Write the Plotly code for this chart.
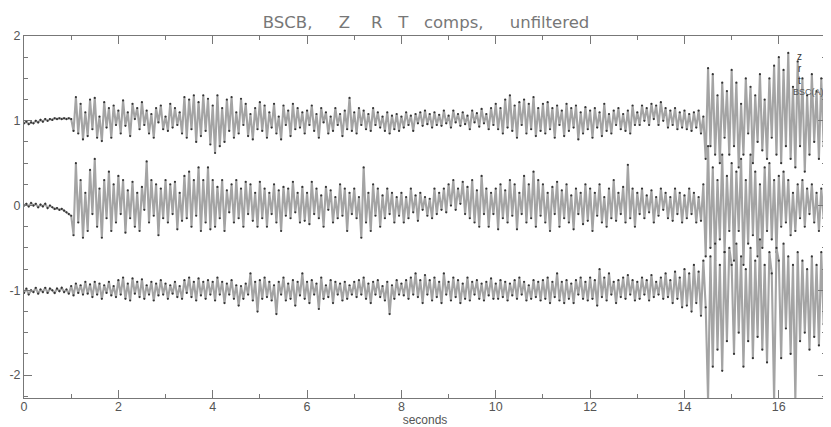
import plotly.graph_objects as go

DT = 0.05
OFFSET_Z, OFFSET_R, OFFSET_T = 1.0, 0.0, -1.0

z_dev = [
 -0.03,-0.01,-0.04,-0.02,-0.03,0.0,-0.02,0.01,-0.01,0.02,0.0,0.02,0.01,0.03,0.02,0.03,0.02,0.03,0.02,0.03,
 0.02,-0.12,0.28,-0.15,0.2,-0.22,0.1,-0.18,0.25,-0.1,0.27,-0.2,0.05,-0.24,0.22,-0.08,0.15,-0.2,0.18,-0.05,
 0.12,-0.15,0.24,-0.06,0.1,-0.18,0.2,0.02,0.15,-0.1,0.22,-0.05,0.12,-0.15,0.08,-0.2,0.15,-0.02,0.18,-0.1,
 0.05,-0.12,0.2,-0.08,0.15,-0.05,0.1,-0.15,0.28,-0.2,0.25,-0.1,0.3,-0.25,0.22,-0.18,0.3,-0.12,0.26,-0.28,
 0.18,-0.38,0.3,-0.3,0.15,-0.25,0.25,-0.12,0.28,-0.2,0.1,-0.15,0.26,-0.05,0.2,-0.18,0.08,-0.22,0.15,-0.1,
 0.22,-0.12,0.18,-0.2,0.1,-0.08,0.2,-0.15,0.05,-0.22,0.18,-0.05,0.12,-0.18,0.2,-0.1,0.15,-0.08,0.1,-0.15,
 0.12,-0.05,0.18,-0.12,0.08,-0.2,0.15,-0.02,0.1,-0.15,0.05,-0.12,0.15,-0.05,0.08,-0.18,0.12,-0.1,0.27,-0.12,
 0.1,-0.15,0.15,-0.05,0.12,-0.1,0.08,-0.12,0.15,-0.05,0.1,-0.08,0.05,-0.12,0.1,-0.15,0.06,-0.1,0.08,-0.12,
 0.05,-0.08,0.1,-0.05,0.06,-0.12,0.08,-0.03,0.1,-0.06,0.12,-0.04,0.08,-0.08,0.1,-0.05,0.07,-0.06,0.12,-0.03,
 0.06,-0.08,0.12,-0.02,0.08,-0.06,0.1,-0.04,0.06,-0.1,0.12,-0.02,0.09,-0.07,0.14,-0.03,0.08,-0.1,0.15,-0.05,
 0.2,-0.1,0.15,-0.15,0.25,-0.08,0.3,-0.12,0.18,-0.2,0.22,-0.05,0.25,-0.15,0.2,-0.1,0.28,-0.18,0.15,-0.12,
 0.2,-0.15,0.22,-0.1,0.15,-0.2,0.18,-0.05,0.12,-0.18,0.2,-0.12,0.15,-0.08,0.18,-0.22,0.1,-0.15,0.16,-0.1,
 0.12,-0.2,0.15,-0.08,0.1,-0.18,0.2,-0.12,0.08,-0.15,0.12,-0.05,0.15,-0.1,0.08,-0.12,0.12,-0.15,0.18,-0.05,
 0.1,-0.05,0.18,0.0,0.15,-0.05,0.2,0.02,0.18,-0.05,0.22,0.0,0.15,-0.08,0.12,-0.05,0.15,-0.1,0.1,-0.08,
 0.12,-0.1,0.08,-0.12,0.1,-0.08,0.12,-0.15,0.05,-0.45,0.62,-0.3,0.55,-0.4,0.3,-0.5,0.45,-0.2,0.35,-0.4,
 0.6,-0.3,0.45,-0.55,0.2,-0.4,0.5,-0.15,0.4,-0.5,0.3,-0.25,0.55,-0.35,0.25,-0.45,0.5,-0.2,0.65,-0.4,
 0.75,-0.5,0.6,-0.3,0.8,-0.45,0.4,-0.55,0.7,-0.3,0.5,-0.6,0.3,-0.4,0.55,-0.25,0.35,-0.45,0.5,-0.3,
 0.2]

r_dev = [
 0.0,0.02,-0.01,0.03,0.0,0.02,-0.02,0.01,-0.01,0.02,-0.03,0.0,-0.02,-0.04,-0.03,-0.05,-0.04,-0.06,-0.08,-0.1,
 -0.12,-0.35,0.5,-0.2,0.3,-0.38,0.15,-0.3,0.42,-0.1,0.55,-0.25,0.2,-0.38,0.3,-0.15,0.4,-0.3,0.25,-0.2,
 0.35,-0.1,0.3,-0.32,0.18,-0.15,0.28,-0.25,0.15,-0.3,0.22,-0.05,0.52,-0.2,0.3,-0.12,0.25,-0.35,0.2,-0.15,
 0.3,-0.2,0.25,-0.1,0.28,-0.28,0.15,-0.18,0.35,-0.15,0.4,-0.25,0.3,-0.12,0.45,-0.3,0.3,-0.2,0.45,-0.28,
 0.3,-0.25,0.22,-0.15,0.3,-0.3,0.18,-0.08,0.25,-0.2,0.3,-0.15,0.2,-0.25,0.28,-0.1,0.25,-0.18,0.15,-0.25,
 0.28,-0.15,0.2,-0.25,0.15,-0.1,0.25,-0.2,0.18,-0.3,0.22,-0.12,0.2,-0.15,0.28,-0.08,0.15,-0.2,0.22,-0.18,
 0.15,-0.22,0.28,-0.1,0.2,-0.15,0.12,-0.25,0.22,-0.05,0.18,-0.2,0.1,-0.15,0.25,-0.12,0.2,-0.3,0.15,-0.1,
 0.2,-0.15,0.1,-0.38,0.45,-0.2,0.15,-0.3,0.25,-0.12,0.2,-0.25,0.12,-0.15,0.2,-0.1,0.15,-0.2,0.1,-0.12,
 0.15,-0.2,0.1,-0.15,0.2,-0.08,0.12,-0.18,0.15,-0.05,0.1,-0.12,0.08,-0.15,0.2,-0.1,0.15,-0.05,0.2,-0.08,
 0.25,0.0,0.3,-0.05,0.2,0.02,0.28,-0.1,0.22,-0.15,0.3,-0.2,0.18,-0.25,0.35,-0.1,0.2,-0.25,0.15,-0.1,
 0.2,-0.28,0.25,-0.15,0.18,-0.2,0.3,-0.12,0.25,-0.28,0.15,-0.1,0.35,-0.2,0.25,-0.15,0.4,-0.25,0.3,-0.12,
 0.25,-0.2,0.15,-0.3,0.22,-0.1,0.28,-0.25,0.18,-0.15,0.25,-0.2,0.12,-0.28,0.2,-0.1,0.15,-0.22,0.25,-0.18,
 0.2,-0.3,0.15,-0.12,0.25,-0.2,0.1,-0.25,0.2,-0.15,0.3,-0.18,0.15,-0.1,0.22,-0.2,0.48,-0.15,0.2,-0.25,
 0.15,-0.1,0.2,-0.15,0.12,-0.08,0.18,-0.2,0.1,-0.12,0.2,-0.05,0.15,-0.15,0.1,-0.18,0.2,-0.1,0.15,-0.2,
 0.12,-0.15,0.2,-0.1,0.15,-0.2,0.1,-0.18,0.25,-0.6,0.7,-0.5,0.45,-0.65,0.3,-0.4,0.6,-0.55,0.35,-0.3,
 0.5,-0.65,0.4,-0.3,0.55,-0.7,0.3,-0.45,0.6,-0.35,0.4,-0.6,0.25,-0.5,0.45,-0.3,0.5,-0.4,0.3,-0.55,
 0.35,-0.25,0.4,-0.2,0.3,-0.35,0.15,-0.3,0.25,-0.15,0.3,-0.25,0.2,-0.1,0.25,-0.2,0.15,-0.3,0.2,-0.15,
 0.1]

t_dev = [
 -0.03,0.02,-0.05,0.0,-0.02,0.03,-0.04,0.01,-0.02,0.03,-0.03,0.02,0.0,-0.03,0.02,-0.01,0.03,-0.02,0.01,-0.04,
 0.05,-0.06,0.08,-0.03,0.06,-0.05,0.1,-0.04,0.07,-0.08,0.1,-0.05,0.08,-0.1,0.06,-0.03,0.1,-0.06,0.05,-0.08,
 0.12,-0.05,0.15,-0.1,0.08,-0.12,0.14,-0.04,0.1,-0.08,0.13,-0.1,0.06,-0.05,0.1,-0.12,0.08,-0.06,0.12,-0.05,
 0.08,-0.1,0.06,-0.04,0.1,-0.08,0.05,-0.1,0.12,-0.03,0.15,-0.08,0.1,-0.12,0.14,-0.06,0.1,-0.1,0.12,-0.05,
 0.1,-0.12,0.15,-0.05,0.1,-0.15,0.08,-0.05,0.12,-0.1,0.06,-0.18,0.05,-0.1,0.08,-0.05,0.2,-0.12,0.1,-0.25,
 0.12,-0.1,0.15,-0.08,0.1,-0.12,0.06,-0.28,0.1,-0.05,0.15,-0.12,0.08,-0.1,0.12,-0.18,0.1,-0.06,0.2,-0.1,
 0.1,-0.15,0.12,-0.05,0.08,-0.22,0.15,-0.1,0.06,-0.08,0.12,-0.15,0.1,-0.05,0.08,-0.12,0.1,-0.1,0.06,-0.05,
 0.1,-0.08,0.12,-0.05,0.15,-0.1,0.08,-0.15,0.1,-0.05,0.12,-0.08,0.05,-0.12,0.1,-0.28,0.06,-0.1,0.12,-0.05,
 0.08,-0.06,0.12,-0.1,0.15,-0.05,0.2,-0.08,0.12,-0.15,0.18,-0.05,0.12,-0.12,0.15,-0.08,0.1,-0.15,0.2,-0.05,
 0.1,-0.12,0.15,-0.08,0.12,-0.15,0.08,-0.1,0.15,-0.12,0.1,-0.05,0.12,-0.1,0.08,-0.12,0.1,-0.06,0.14,-0.1,
 0.08,-0.1,0.12,-0.08,0.1,-0.12,0.08,-0.06,0.12,-0.1,0.15,-0.05,0.1,-0.12,0.06,-0.1,0.12,-0.08,0.1,-0.12,
 0.12,-0.1,0.15,-0.15,0.1,-0.08,0.2,-0.12,0.1,-0.15,0.12,-0.1,0.08,-0.15,0.12,-0.05,0.15,-0.1,0.1,-0.12,
 0.15,-0.1,0.12,-0.18,0.25,-0.08,0.15,-0.12,0.2,-0.05,0.1,-0.15,0.12,-0.08,0.15,-0.1,0.18,-0.05,0.12,-0.12,
 0.1,-0.1,0.15,-0.05,0.12,-0.12,0.18,-0.08,0.1,-0.05,0.15,-0.1,0.2,-0.08,0.12,-0.15,0.22,-0.1,0.15,-0.2,
 0.25,-0.18,0.2,-0.25,0.3,-0.15,0.22,-0.3,0.35,-0.2,-1.3,0.4,-0.9,0.55,-0.7,0.3,-0.95,0.45,-0.6,0.5,
 0.3,-0.75,0.55,-0.5,0.4,-0.9,0.25,-0.6,0.5,-0.8,0.35,-0.55,0.6,-0.7,0.3,-0.85,0.45,0.2,-1.3,0.5,
 0.35,-0.8,0.55,-0.45,0.4,-0.75,0.3,-1.3,0.45,-0.6,0.35,-0.5,0.25,-0.7,0.4,-0.55,0.3,-0.65,0.45,-0.4,
 0.2]

TITLE = "BSCB,     Z    R   T   comps,     unfiltered"
X_TICKS = [0, 2, 4, 6, 8, 10, 12, 14, 16]
Y_TICKS = [-2, -1, 0, 1, 2]
Y_TICK_TEXT = ["-2", "-1", "0", "1", "2"]
COMP_LABELS = ["z", "r", "t"]

time = [round(i * DT, 3) for i in range(len(z_dev))]

fig = go.Figure()
for dev, off in [(z_dev, OFFSET_Z), (r_dev, OFFSET_R), (t_dev, OFFSET_T)]:
    fig.add_trace(go.Scatter(
        x=time, y=[off + v for v in dev], mode="lines+markers",
        line=dict(color="#a4a4a4", width=2.1),
        marker=dict(color="#333333", size=2.2),
        showlegend=False, hoverinfo="skip"))

font_family = "Liberation Sans, Arial"
axis_common = dict(showgrid=False, zeroline=False, showline=True, linecolor="#777",
                   linewidth=1, mirror="ticks", ticks="inside", tickcolor="#777",
                   automargin=False,
                   tickfont=dict(size=12.5, color="#555", family=font_family))
# the page body has an 8px default margin, so the figure is 8px smaller
fig.update_layout(
    width=823, height=419,
    margin=dict(l=16, r=5, t=28, b=29),
    paper_bgcolor="white", plot_bgcolor="white",
    title=dict(text=TITLE, x=0.508, xanchor="center", y=0.965, yanchor="middle",
               font=dict(size=16.5, color="#777", family="DejaVu Sans")),
    xaxis=dict(range=[0, 17], tickvals=X_TICKS, ticklen=8, ticklabelstandoff=-3,
               minor=dict(dtick=1, ticklen=4, ticks="inside", tickcolor="#777"),
               title=dict(text="seconds", standoff=3, font=dict(size=12, color="#555", family=font_family)),
               **axis_common),
    yaxis=dict(range=[-2.27, 2], tickvals=Y_TICKS, ticktext=Y_TICK_TEXT, ticklen=8,
               minor=dict(dtick=0.25, ticklen=4, ticks="inside", tickcolor="#777"),
               **axis_common),
)
for lab, yy in zip(COMP_LABELS, [1.76, 1.62, 1.48]):
    fig.add_annotation(x=16.44, y=yy, text=lab, showarrow=False,
                       font=dict(size=10, color="#333", family=font_family))
fig.add_annotation(x=17, y=1.34, text="BSC(A)", showarrow=False, xanchor="right",
                   font=dict(size=9, color="#555", family=font_family))

fig.write_html("out.html")
